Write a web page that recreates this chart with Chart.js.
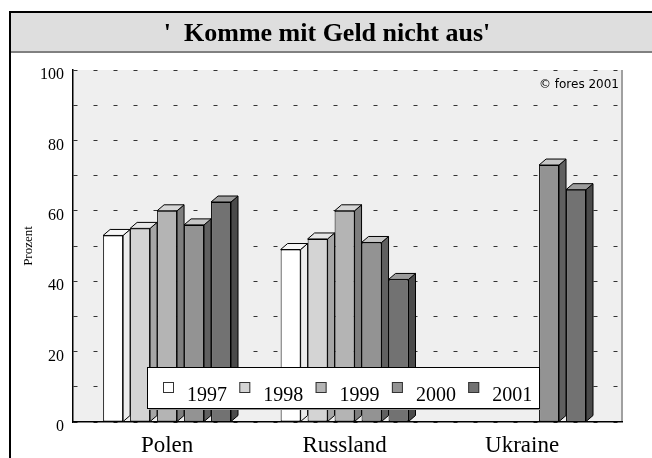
<!DOCTYPE html>
<html>
<head>
<meta charset="utf-8">
<script src="https://cdn.jsdelivr.net/npm/chart.js@4"></script>
<style>
  body { margin: 0; background: #fff; }
  canvas { display: block; }
</style>
</head>
<body>
<canvas id="chart" width="652" height="458"></canvas>
<script>
const titleText = "'  Komme mit Geld nicht aus'";
const copyrightText = '\u00A9 fores 2001';
const yAxisTitle = 'Prozent';
const categories = ['Polen', 'Russland', 'Ukraine'];
const years = ['1997', '1998', '1999', '2000', '2001'];
const v1997 = [53, 49, null];
const v1998 = [55, 52, null];
const v1999 = [60, 60, null];
const v2000 = [56, 51, 73];
const v2001 = [62.5, 40.5, 66];
const yTickLabels = [0, 20, 40, 60, 80, 100];

const series = [v1997, v1998, v1999, v2000, v2001];
// front / side / top shades of each year
const fronts = ['#ffffff', '#d4d4d4', '#b4b4b4', '#939393', '#727272'];
const sides = ['#ececec', '#a6a6a6', '#7e7e7e', '#606060', '#4a4a4a'];
const tops = ['#f6f6f6', '#e6e6e6', '#d6d6d6', '#c6c6c6', '#9c9c9c'];
const DX = 7, DY = 6;
const serif = '"Liberation Serif", "Times New Roman", serif';

const datasets = years.map((yr, k) => ({
    label: yr,
    data: categories.map((c, i) => ({ x: i, y: series[k][i] })).filter(p => p.y !== null),
    backgroundColor: fronts[k],
    borderColor: '#000',
    borderWidth: 1,
    borderSkipped: false,
    categoryPercentage: 0.76,
    barPercentage: 0.74
}));

const frame = {
    id: 'frame',
    beforeDraw(chart) {
        const ctx = chart.ctx;
        const a = chart.chartArea;
        ctx.save();
        ctx.fillStyle = '#fff';
        ctx.fillRect(0, 0, chart.width, chart.height);
        // title banner
        ctx.fillStyle = '#dedede';
        ctx.fillRect(10, 12, chart.width - 10, 41);
        ctx.fillStyle = '#808080';
        ctx.fillRect(10, 51, chart.width - 10, 2);
        ctx.fillStyle = '#000';
        ctx.fillRect(10, 11, chart.width - 10, 2);
        ctx.fillRect(9, 11, 2, chart.height - 11);
        ctx.font = 'bold 26px ' + serif;
        ctx.textAlign = 'center';
        ctx.textBaseline = 'middle';
        ctx.fillText(titleText, 327, 34);
        // plot background
        ctx.fillStyle = '#efefef';
        ctx.fillRect(a.left, a.top, a.right - a.left, a.bottom - a.top);
        ctx.fillStyle = '#a0a0a0';
        ctx.fillRect(a.right - 1, a.top, 2, a.bottom - a.top);
        ctx.restore();
    }
};

const bars3d = {
    id: 'bars3d',
    afterDatasetsDraw(chart) {
        const ctx = chart.ctx;
        ctx.save();
        ctx.lineWidth = 1;
        ctx.strokeStyle = '#000';
        chart.data.datasets.forEach((ds, k) => {
            chart.getDatasetMeta(k).data.forEach(bar => {
                const { x, y, base, width } = bar.getProps(['x', 'y', 'base', 'width'], true);
                const l = x - width / 2, r = x + width / 2;
                ctx.beginPath();
                ctx.moveTo(r, y);
                ctx.lineTo(r + DX, y - DY);
                ctx.lineTo(r + DX, base - DY);
                ctx.lineTo(r, base);
                ctx.closePath();
                ctx.fillStyle = sides[k];
                ctx.fill();
                ctx.stroke();
                ctx.beginPath();
                ctx.moveTo(l, y);
                ctx.lineTo(l + DX, y - DY);
                ctx.lineTo(r + DX, y - DY);
                ctx.lineTo(r, y);
                ctx.closePath();
                ctx.fillStyle = tops[k];
                ctx.fill();
                ctx.stroke();
            });
        });

        // legend box over the bars
        const lx = 147, ly = 367, lw = 392, lh = 41;
        ctx.fillStyle = '#909090';
        ctx.fillRect(lx + 2, ly + 2, lw, lh);
        ctx.fillStyle = '#fff';
        ctx.fillRect(lx, ly, lw, lh);
        ctx.strokeRect(lx + 0.5, ly + 0.5, lw, lh);
        ctx.font = '20px ' + serif;
        ctx.textAlign = 'left';
        ctx.textBaseline = 'alphabetic';
        chart.data.datasets.forEach((ds, k) => {
            const sx = 163 + k * 76.3;
            ctx.fillStyle = ds.backgroundColor;
            ctx.fillRect(sx, 382, 11, 11);
            ctx.strokeStyle = '#333';
            ctx.strokeRect(sx + 0.5, 382.5, 10, 10);
            ctx.fillStyle = '#000';
            ctx.fillText(ds.label, sx + 24, 401);
        });
        ctx.restore();
    },
    afterDraw(chart) {
        const ctx = chart.ctx;
        ctx.save();
        ctx.font = '12px "DejaVu Sans", sans-serif';
        ctx.fillStyle = '#000';
        ctx.textAlign = 'right';
        ctx.textBaseline = 'alphabetic';
        ctx.fillText(copyrightText, chart.chartArea.right - 3, 88);
        ctx.restore();
    }
};

new Chart(document.getElementById('chart'), {
    type: 'bar',
    data: { datasets: datasets },
    options: {
        responsive: false,
        animation: false,
        devicePixelRatio: 1,
        layout: { padding: { left: 0, top: 70, right: 30, bottom: 0 } },
        plugins: {
            legend: { display: false },
            title: { display: false },
            tooltip: { enabled: false }
        },
        scales: {
            x: {
                type: 'linear',
                offset: false,
                min: -0.53,
                max: 2.563,
                grid: { display: false },
                border: { color: '#000', width: 1.5 },
                ticks: {
                    stepSize: 1,
                    includeBounds: false,
                    autoSkip: false,
                    maxRotation: 0,
                    padding: 2,
                    color: '#000',
                    font: { family: serif, size: 23 },
                    callback: v => categories[v] ?? ''
                },
                afterFit: s => { s.height = 36; }
            },
            y: {
                min: 0,
                max: 100,
                grid: { color: '#333', lineWidth: 1, drawTicks: false },
                border: { color: '#000', width: 1.5, dash: [4, 16] },
                ticks: {
                    stepSize: 10,
                    padding: 9,
                    labelOffset: 5,
                    color: '#000',
                    font: { family: serif, size: 16 },
                    callback: v => yTickLabels.includes(v) ? String(v) : ''
                },
                title: {
                    display: true,
                    text: yAxisTitle,
                    color: '#000',
                    font: { family: serif, size: 13 },
                    padding: { top: 21 }
                },
                afterFit: s => { s.width = 73; }
            }
        }
    },
    plugins: [frame, bars3d]
});
</script>
</body>
</html>
